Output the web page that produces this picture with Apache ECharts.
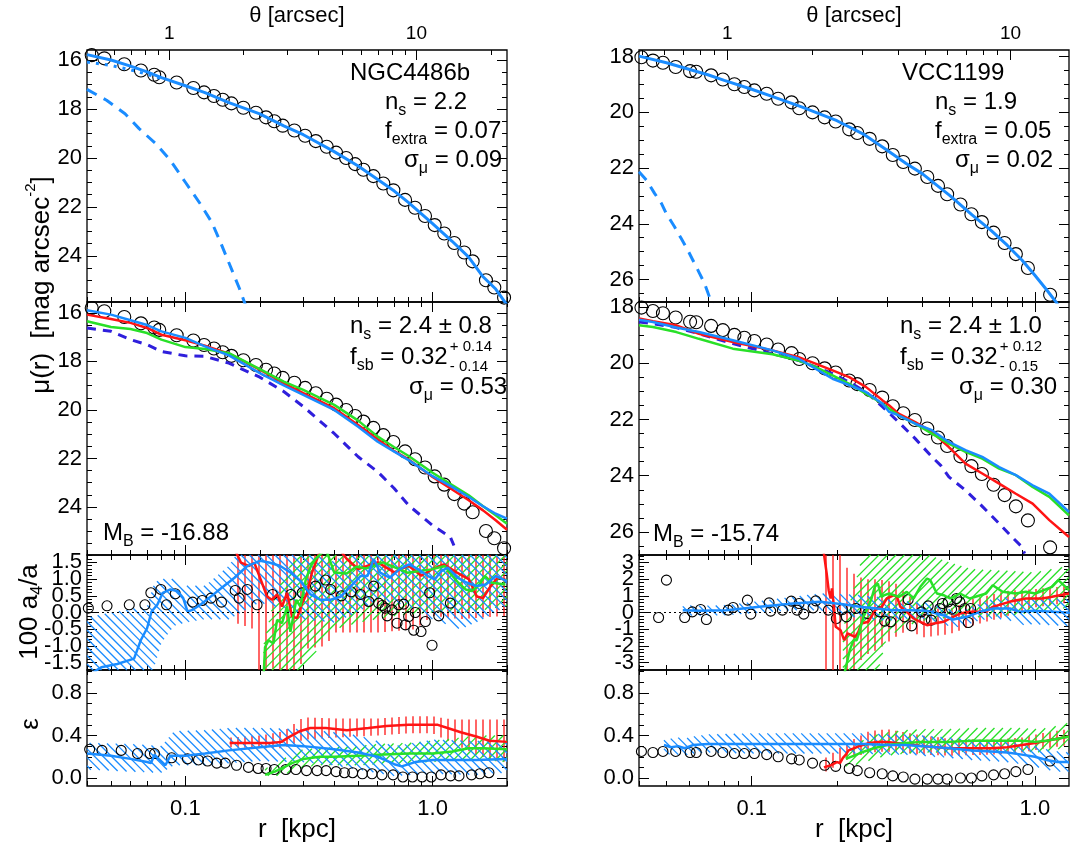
<!DOCTYPE html>
<html>
<head>
<meta charset="utf-8">
<script src="https://cdn.jsdelivr.net/npm/echarts@6/dist/echarts.min.js"></script>
<style>html,body{margin:0;padding:0;background:#fff}#chart{width:1071px;height:852px}</style>
</head>
<body>
<div id="chart"></div>
<script>
// ---------------- NGC4486b ----------------
const rMuL = [0.0418, 0.0470, 0.0566, 0.0661, 0.0748, 0.0784, 0.0922, 0.1077, 0.119, 0.1305, 0.1416, 0.1535, 0.1716, 0.193, 0.212, 0.229, 0.2477, 0.276, 0.305, 0.337, 0.373, 0.407, 0.447, 0.486, 0.525, 0.576, 0.632, 0.694, 0.774, 0.849, 0.932, 1.02, 1.115, 1.224, 1.343, 1.452, 1.644, 1.777, 1.946];
const muL = [15.80, 15.93, 16.17, 16.43, 16.60, 16.70, 16.92, 17.14, 17.32, 17.47, 17.62, 17.77, 17.95, 18.15, 18.34, 18.50, 18.68, 18.88, 19.09, 19.31, 19.54, 19.78, 20.00, 20.25, 20.48, 20.74, 21.04, 21.32, 21.71, 22.03, 22.37, 22.74, 23.08, 23.47, 23.86, 24.22, 24.99, 25.29, 25.70];
const rEpsL = [0.041, 0.046, 0.055, 0.064, 0.072, 0.075, 0.088, 0.102, 0.113, 0.123, 0.134, 0.145, 0.161, 0.180, 0.197, 0.212, 0.229, 0.255, 0.280, 0.309, 0.341, 0.371, 0.407, 0.440, 0.475, 0.520, 0.569, 0.624, 0.692, 0.758, 0.829, 0.907, 0.988, 1.082, 1.183, 1.279, 1.437, 1.553, 1.690];
const epsL = [0.27, 0.26, 0.26, 0.23, 0.23, 0.23, 0.19, 0.18, 0.17, 0.16, 0.14, 0.14, 0.12, 0.10, 0.09, 0.09, 0.08, 0.08, 0.08, 0.07, 0.07, 0.07, 0.06, 0.05, 0.05, 0.04, 0.04, 0.03, 0.03, 0.01, 0.01, 0.01, 0.01, 0.03, 0.02, 0.02, 0.03, 0.04, 0.05];

const fitL_r = [0.04, 0.05, 0.06, 0.07, 0.08, 0.1, 0.12, 0.15, 0.2, 0.25, 0.3, 0.4, 0.5, 0.6, 0.7, 0.8, 1.0, 1.2, 1.4, 1.6, 1.8, 2.0];
const fitL = [15.78, 16.00, 16.25, 16.48, 16.72, 17.05, 17.33, 17.74, 18.20, 18.69, 19.05, 19.74, 20.33, 20.88, 21.35, 21.82, 22.68, 23.40, 24.05, 24.85, 25.35, 26.00];
const sersicL_r = [0.04, 0.05, 0.06, 0.07, 0.08];
const sersicL = [16.08, 16.22, 16.40, 16.58, 16.76];
const extraL_r = [0.04, 0.048, 0.057, 0.065, 0.076, 0.087, 0.1, 0.115, 0.128, 0.138, 0.151, 0.165, 0.175];
const extraL = [17.20, 17.64, 18.19, 18.80, 19.42, 20.10, 20.99, 21.88, 22.63, 23.39, 24.35, 25.30, 26.00];

const modL_r = [0.04, 0.05, 0.06, 0.07, 0.08, 0.1, 0.12, 0.15, 0.2, 0.25, 0.3, 0.4, 0.5, 0.6, 0.7, 0.8, 1.0, 1.2, 1.4, 1.6, 1.8, 2.0];
const blueMuL = [15.89, 16.07, 16.30, 16.50, 16.76, 17.03, 17.38, 17.75, 18.48, 18.99, 19.38, 20.00, 20.69, 21.31, 21.72, 22.07, 22.73, 23.17, 23.59, 23.97, 24.28, 24.48];
const redMuL = [16.07, 16.25, 16.41, 16.62, 16.90, 17.13, 17.35, 17.68, 18.34, 18.90, 19.31, 19.93, 20.62, 21.21, 21.70, 22.04, 22.76, 23.28, 23.72, 24.14, 24.55, 24.94];
const greenMuL = [16.34, 16.58, 16.66, 16.83, 17.10, 17.41, 17.49, 17.66, 18.32, 18.83, 19.17, 19.79, 20.44, 21.10, 21.54, 21.90, 22.59, 23.10, 23.52, 23.97, 24.34, 24.69];
const dashMuL_r = [0.04, 0.05, 0.06, 0.07, 0.08, 0.1, 0.12, 0.15, 0.2, 0.25, 0.3, 0.4, 0.5, 0.6, 0.7, 0.8, 1.0, 1.18, 1.22];
const dashMuL = [16.62, 16.76, 17.10, 17.31, 17.59, 17.77, 17.79, 18.07, 18.65, 19.24, 19.86, 20.97, 21.93, 22.55, 23.24, 23.93, 24.76, 25.24, 25.59];

const a4L_r = [0.0405, 0.0482, 0.0593, 0.0686, 0.0725, 0.0796, 0.0839, 0.091, 0.107, 0.117, 0.127, 0.140, 0.159, 0.165, 0.178, 0.195, 0.225, 0.267, 0.297, 0.336, 0.369, 0.387, 0.428, 0.468, 0.511, 0.552, 0.578, 0.605, 0.625, 0.644, 0.655, 0.686, 0.718, 0.729, 0.764, 0.776, 0.800, 0.839, 0.851, 0.898, 0.935, 0.973, 0.995, 1.059, 1.18];
const a4L = [0.13, 0.20, 0.23, 0.23, 0.59, 0.69, 0.23, 0.56, 0.31, 0.36, 0.43, 0.31, 0.66, 0.43, 0.69, 0.23, 0.54, 0.54, 0.59, 0.79, 0.97, 0.69, 0.50, 0.62, 0.54, 0.33, 0.79, 0.28, 0.21, 0.13, -0.10, 0.08, -0.32, 0.23, 0.25, -0.37, -0.12, -0.53, 0.00, -0.57, -0.27, 0.59, -0.98, -0.10, 0.28];
const blueA4L_r = [0.04, 0.0457, 0.053, 0.062, 0.066, 0.070, 0.073, 0.077, 0.081, 0.087, 0.093, 0.098, 0.102, 0.107, 0.115, 0.135, 0.158, 0.178, 0.201, 0.220, 0.242, 0.267, 0.292, 0.321, 0.352, 0.387, 0.426, 0.467, 0.511, 0.545, 0.578, 0.614, 0.671, 0.734, 0.803, 0.877, 0.959, 1.02, 1.085, 1.153, 1.26, 1.378, 1.507, 1.647, 1.80, 2.0];
const blueA4L = [-1.90, -1.64, -1.54, -1.38, -0.83, -0.47, 0.03, 0.23, 0.59, 0.69, 0.64, 0.43, 0.03, 0.08, 0.23, 0.64, 1.04, 1.39, 1.55, 1.49, 1.39, 1.19, 0.94, 0.54, 0.38, 0.38, 0.48, 0.79, 1.09, 1.09, 1.60, 1.19, 1.04, 1.29, 1.44, 1.29, 1.09, 0.99, 1.24, 1.34, 1.04, 0.89, 0.79, 0.84, 1.09, 0.94];
const blueA4L_band_r = [0.04, 0.05, 0.06, 0.07, 0.075, 0.08, 0.09, 0.1, 0.12, 0.15, 0.2, 0.25, 0.3, 0.4, 0.5, 0.6, 0.8, 1.0, 1.3, 1.6, 2.0];
const blueA4L_lo = [-3.0, -3.0, -2.6, -2.0, -1.6, -0.9, -0.4, -0.3, -0.2, -0.2, 0.3, 0.1, -0.2, -0.3, 0.0, 0.4, 0.2, -0.2, -0.5, -0.2, 0.2];
const blueA4L_hi = [-0.15, 0.0, 0.1, 0.2, 0.9, 1.0, 1.0, 0.8, 0.8, 1.4, 2.8, 2.5, 2.0, 1.5, 2.2, 2.8, 2.5, 2.3, 2.5, 1.8, 1.7];
const redA4L_r = [0.158, 0.168, 0.181, 0.190, 0.204, 0.214, 0.224, 0.235, 0.246, 0.258, 0.270, 0.283, 0.297, 0.311, 0.325, 0.341, 0.356, 0.40, 0.45, 0.5, 0.6, 0.7, 0.8, 0.9, 1.0, 1.11, 1.25, 1.4, 1.51, 1.6, 1.7, 1.83, 1.97];
const redA4L = [1.90, 1.49, 1.39, 1.49, 0.89, 0.48, 0.38, 0.54, 0.18, 0.59, -0.12, -0.17, 0.28, 0.59, 1.19, 1.60, 2.00, 2.10, 1.60, 1.30, 1.50, 1.20, 1.40, 1.10, 1.30, 1.44, 1.20, 1.00, 0.48, 0.43, 0.74, 1.04, 0.99];
const redA4L_band_r = [0.158, 0.19, 0.2, 0.28, 0.3, 0.37, 0.4, 0.6, 0.85, 1.0, 1.3, 2.0];
const redA4L_lo = [-0.3, -0.5, -2.5, -2.5, -1.1, -1.0, -0.6, -0.6, -0.5, -0.1, -0.2, -0.1];
const redA4L_hi = [2.5, 2.5, 2.5, 2.5, 2.5, 2.5, 2.5, 2.5, 2.5, 2.5, 2.5, 2.5];
const greenA4L_r = [0.207, 0.210, 0.217, 0.227, 0.235, 0.246, 0.258, 0.266, 0.281, 0.292, 0.307, 0.322, 0.336, 0.352, 0.37, 0.40, 0.45, 0.49, 0.54, 0.63, 0.79, 0.99, 1.12, 1.19, 1.27, 1.36, 1.44, 1.53, 1.63, 1.74, 1.97];
const greenA4L = [-2.00, -1.04, -0.83, -0.93, -0.22, -0.32, 0.18, -0.58, 0.38, 0.18, 0.99, 1.39, 1.60, 1.75, 1.90, 1.20, 1.17, 1.37, 1.32, 1.50, 1.19, 1.29, 1.39, 1.14, 0.89, 0.69, 0.64, 0.79, 1.09, 0.89, 0.84];
const greenA4L_band_r = [0.207, 0.23, 0.27, 0.3, 0.35, 0.4, 0.5, 0.7, 1.0, 1.4, 2.0];
const greenA4L_lo = [-3.0, -3.0, -2.5, -1.7, -1.0, -0.5, -0.3, -0.1, 0.0, 0.0, 0.2];
const greenA4L_hi = [-1.0, 0.5, 1.5, 3.0, 3.0, 3.0, 3.0, 3.0, 3.0, 2.5, 2.0];

const blueEpsL_r = [0.04, 0.05, 0.06, 0.07, 0.0725, 0.075, 0.078, 0.083, 0.087, 0.1, 0.12, 0.15, 0.2, 0.25, 0.3, 0.4, 0.5, 0.6, 0.7, 0.75, 0.85, 1.0, 1.5, 2.0];
const blueEpsL = [0.23, 0.21, 0.18, 0.15, 0.14, 0.22, 0.18, 0.12, 0.21, 0.21, 0.23, 0.26, 0.29, 0.31, 0.30, 0.27, 0.24, 0.20, 0.13, 0.11, 0.15, 0.17, 0.17, 0.18];
const blueEpsL_band_r = [0.04, 0.06, 0.08, 0.09, 0.12, 0.15, 0.2, 0.3, 0.4, 0.5, 0.7, 1.0, 1.5, 2.0];
const blueEpsL_lo = [0.08, 0.06, 0.05, 0.12, 0.12, 0.14, 0.16, 0.15, 0.12, 0.08, 0.02, 0.04, 0.03, 0.05];
const blueEpsL_hi = [0.33, 0.32, 0.30, 0.44, 0.45, 0.47, 0.47, 0.46, 0.43, 0.40, 0.30, 0.36, 0.35, 0.33];
const redEpsL_r = [0.151, 0.16, 0.19, 0.22, 0.245, 0.26, 0.275, 0.29, 0.32, 0.37, 0.45, 0.55, 0.65, 0.8, 0.95, 1.05, 1.15, 1.3, 1.5, 1.7, 2.0];
const redEpsL = [0.33, 0.33, 0.33, 0.33, 0.34, 0.38, 0.41, 0.44, 0.47, 0.47, 0.45, 0.47, 0.49, 0.50, 0.50, 0.50, 0.47, 0.43, 0.39, 0.35, 0.34];
const redEpsL_band_r = [0.151, 0.2, 0.25, 0.3, 0.4, 0.6, 0.8, 1.0, 1.2, 1.5, 1.8, 2.0];
const redEpsL_lo = [0.29, 0.28, 0.28, 0.36, 0.38, 0.40, 0.42, 0.42, 0.33, 0.22, 0.16, 0.15];
const redEpsL_hi = [0.38, 0.40, 0.44, 0.57, 0.56, 0.56, 0.58, 0.58, 0.55, 0.55, 0.55, 0.55];
const greenEpsL_r = [0.21, 0.23, 0.25, 0.27, 0.3, 0.35, 0.4, 0.5, 0.6, 0.8, 1.0, 1.2, 1.4, 1.6, 2.0];
const greenEpsL = [0.03, 0.06, 0.10, 0.14, 0.18, 0.20, 0.20, 0.21, 0.22, 0.23, 0.23, 0.25, 0.28, 0.28, 0.27];
const greenEpsL_lo = [0.02, 0.02, 0.03, 0.06, 0.10, 0.12, 0.12, 0.12, 0.13, 0.14, 0.15, 0.17, 0.18, 0.17, 0.15];
const greenEpsL_hi = [0.09, 0.12, 0.18, 0.22, 0.27, 0.28, 0.29, 0.30, 0.32, 0.33, 0.35, 0.37, 0.39, 0.40, 0.40];

// ---------------- VCC1199 ----------------
const rR = [0.0408, 0.0448, 0.0486, 0.0539, 0.0606, 0.0637, 0.0719, 0.0791, 0.0869, 0.0942, 0.1022, 0.113, 0.124, 0.1383, 0.1472, 0.164, 0.181, 0.198, 0.221, 0.236, 0.261, 0.289, 0.315, 0.343, 0.377, 0.417, 0.455, 0.490, 0.546, 0.597, 0.650, 0.715, 0.782, 0.857, 0.945, 1.132];
const muR = [18.02, 18.14, 18.22, 18.37, 18.52, 18.54, 18.67, 18.82, 18.99, 19.09, 19.21, 19.33, 19.51, 19.64, 19.85, 20.00, 20.18, 20.33, 20.61, 20.74, 20.95, 21.22, 21.53, 21.78, 22.02, 22.32, 22.64, 22.94, 23.31, 23.66, 23.94, 24.32, 24.69, 25.09, 25.59, 26.55];
const epsR = [0.25, 0.24, 0.25, 0.25, 0.24, 0.24, 0.25, 0.24, 0.23, 0.23, 0.23, 0.22, 0.20, 0.18, 0.17, 0.14, 0.12, 0.11, 0.09, 0.07, 0.05, 0.04, 0.02, 0.01, -0.01, -0.01, -0.01, -0.01, 0.00, 0.00, 0.02, 0.03, 0.04, 0.06, 0.08, 0.16];

const fitR_r = [0.04, 0.05, 0.06, 0.07, 0.08, 0.1, 0.12, 0.15, 0.2, 0.25, 0.3, 0.35, 0.4, 0.5, 0.6, 0.7, 0.8, 0.9, 1.0, 1.1, 1.2, 1.32];
const fitR = [17.98, 18.22, 18.45, 18.65, 18.85, 19.17, 19.45, 19.80, 20.30, 20.80, 21.35, 21.83, 22.20, 22.98, 23.68, 24.24, 24.78, 25.30, 25.85, 26.37, 26.87, 27.40];
const extraR_r = [0.04, 0.0425, 0.0454, 0.048, 0.0499, 0.0534, 0.0564, 0.0595, 0.062, 0.0655, 0.0681, 0.0709, 0.0725];
const extraR = [22.13, 22.43, 22.91, 23.27, 23.63, 24.11, 24.53, 24.95, 25.31, 25.79, 26.14, 26.62, 26.90];

const modR_r = [0.04, 0.0448, 0.0542, 0.0651, 0.0858, 0.1184, 0.1465, 0.168, 0.193, 0.221, 0.253, 0.290, 0.306, 0.330, 0.378, 0.433, 0.497, 0.569, 0.652, 0.748, 0.857, 0.982, 1.125, 1.32];
const blueMuR = [18.45, 18.53, 18.73, 18.89, 19.18, 19.54, 19.84, 20.19, 20.55, 20.78, 21.02, 21.44, 21.73, 21.85, 22.15, 22.38, 22.80, 23.09, 23.33, 23.69, 23.98, 24.34, 24.64, 25.29];
const redMuR = [18.41, 18.50, 18.65, 18.95, 19.24, 19.54, 19.78, 20.01, 20.25, 20.49, 20.84, 21.32, 21.50, 21.79, 22.09, 22.44, 22.98, 23.57, 23.92, 24.28, 24.64, 24.99, 25.58, 26.18];
const greenMuR = [18.65, 18.71, 18.89, 19.13, 19.48, 19.68, 19.90, 20.13, 20.43, 20.73, 21.08, 21.44, 21.62, 21.85, 22.15, 22.50, 22.86, 23.15, 23.39, 23.75, 23.98, 24.40, 24.75, 25.41];
const dashMuR_r = [0.04, 0.0448, 0.0542, 0.0651, 0.0858, 0.1184, 0.1465, 0.168, 0.193, 0.221, 0.253, 0.290, 0.330, 0.378, 0.433, 0.465, 0.497, 0.569, 0.652, 0.748, 0.83, 0.90, 0.92];
const dashMuR = [18.53, 18.59, 18.73, 18.95, 19.30, 19.66, 19.90, 20.13, 20.37, 20.67, 21.02, 21.55, 22.09, 22.68, 23.33, 23.63, 24.04, 24.52, 25.09, 25.70, 26.18, 26.53, 26.77];

const a4R_r = [0.0469, 0.050, 0.058, 0.0617, 0.066, 0.0692, 0.0826, 0.0860, 0.0966, 0.0993, 0.1152, 0.1167, 0.1284, 0.138, 0.1446, 0.147, 0.1527, 0.1648, 0.1684, 0.1866, 0.199, 0.209, 0.216, 0.233, 0.257, 0.283, 0.295, 0.310, 0.347, 0.357, 0.367, 0.398, 0.409, 0.420, 0.431, 0.462, 0.472, 0.494, 0.508, 0.529, 0.543, 0.566, 0.582, 0.593];
const a4R = [-0.30, 1.94, -0.30, 0.04, 0.18, -0.42, 0.14, 0.30, 0.74, -0.10, 0.58, 0.08, 0.14, 0.68, 0.14, 0.54, -0.10, 0.28, 0.70, 0.14, -0.36, 0.18, -0.26, 0.24, -0.06, 0.04, -0.52, -0.56, -0.26, 0.78, -0.80, 0.04, -0.42, 0.40, -0.46, 0.24, 0.54, 0.64, 0.20, 0.84, 0.64, 0.24, -0.60, 0.24];
const blueA4R_r = [0.0571, 0.0654, 0.0814, 0.1067, 0.140, 0.174, 0.210, 0.241, 0.276, 0.316, 0.362, 0.414, 0.474, 0.515, 0.574, 0.640, 0.713, 0.817, 0.885, 0.987, 1.16, 1.33];
const blueA4R = [0.14, 0.10, 0.14, 0.34, 0.54, 0.64, 0.50, 0.34, 0.24, 0.14, 0.14, 0.10, -0.16, -0.42, -0.26, 0.04, 0.24, 0.24, 0.04, 0.10, 0.04, -0.02];
const blueA4R_lo = [-0.16, -0.20, -0.16, -0.01, 0.14, 0.14, -0.10, -0.36, -0.46, -0.46, -0.36, -0.40, -0.66, -0.92, -0.76, -0.46, -0.36, -0.46, -0.76, -0.70, -0.76, -0.82];
const blueA4R_hi = [0.44, 0.40, 0.44, 0.69, 0.94, 1.14, 1.10, 1.04, 0.94, 0.74, 0.64, 0.60, 0.34, 0.08, 0.24, 0.54, 0.84, 0.94, 0.84, 0.90, 0.84, 0.78];
const redA4R_r = [0.179, 0.184, 0.187, 0.190, 0.192, 0.195, 0.198, 0.206, 0.212, 0.218, 0.232, 0.238, 0.244, 0.258, 0.273, 0.288, 0.300, 0.318, 0.326, 0.335, 0.353, 0.373, 0.394, 0.416, 0.440, 0.476, 0.502, 0.544, 0.589, 0.673, 0.710, 0.812, 0.929, 1.06, 1.15, 1.32];
const redA4R = [3.80, 2.34, 1.34, 0.84, 1.44, 0.44, -0.86, -1.06, -1.66, -1.26, -1.46, -1.16, -0.66, -0.56, 0.14, 0.34, 0.84, 1.04, 0.94, 0.34, 0.04, -0.36, -0.56, -0.76, -0.66, -0.56, -0.36, -0.06, 0.04, 0.04, 0.34, 0.64, 0.84, 0.84, 0.94, 1.14];
const redA4R_band_r = [0.179, 0.2, 0.22, 0.25, 0.28, 0.32, 0.36, 0.4, 0.5, 0.6, 0.8, 1.0, 1.32];
const redA4R_lo = [-3.8, -3.8, -3.8, -2.6, -2.2, -1.5, -1.0, -1.5, -1.3, -0.8, -0.2, 0.3, 0.6];
const redA4R_hi = [3.8, 3.8, 2.5, 2.0, 2.0, 1.8, 1.0, 0.3, 0.2, 0.8, 1.3, 1.4, 1.6];
const greenA4R_r = [0.213, 0.222, 0.229, 0.235, 0.241, 0.248, 0.258, 0.265, 0.272, 0.279, 0.287, 0.294, 0.306, 0.331, 0.353, 0.373, 0.394, 0.416, 0.427, 0.451, 0.476, 0.502, 0.544, 0.589, 0.673, 0.710, 0.769, 0.856, 0.929, 1.005, 1.15, 1.21, 1.32];
const greenA4R = [-3.60, -2.26, -1.66, -1.66, -1.06, -0.26, 0.34, 0.84, 1.54, 1.74, 0.94, 1.04, 1.14, 0.94, 1.24, 0.84, 1.54, 2.04, 1.94, 1.14, 1.04, 0.84, 1.14, 0.84, 1.14, 1.64, 1.24, 1.14, 1.24, 1.14, 1.54, 1.94, 1.34];
const greenA4R_band_r = [0.21, 0.25, 0.28, 0.3, 0.35, 0.4, 0.5, 0.6, 0.8, 1.0, 1.32];
const greenA4R_lo = [-3.8, -3.8, -3.5, -1.5, -0.8, -0.5, -0.3, -0.3, -0.2, 0.0, 0.3];
const greenA4R_hi = [-1.0, 3.8, 3.8, 3.8, 3.8, 3.6, 3.0, 2.6, 2.5, 2.4, 2.8];

const blueEpsR_r = [0.049, 0.052, 0.055, 0.058, 0.062, 0.07, 0.1, 0.15, 0.2, 0.25, 0.3, 0.35, 0.4, 0.5, 0.6, 0.7, 0.8, 0.9, 1.0, 1.1, 1.2, 1.32];
const blueEpsR = [0.31, 0.29, 0.30, 0.28, 0.31, 0.32, 0.32, 0.32, 0.32, 0.32, 0.31, 0.31, 0.30, 0.28, 0.26, 0.25, 0.24, 0.22, 0.20, 0.17, 0.15, 0.15];
const blueEpsR_lo = [0.23, 0.22, 0.22, 0.21, 0.23, 0.24, 0.23, 0.23, 0.23, 0.23, 0.22, 0.22, 0.21, 0.19, 0.17, 0.16, 0.15, 0.13, 0.11, 0.08, 0.06, 0.06];
const blueEpsR_hi = [0.38, 0.37, 0.38, 0.37, 0.39, 0.41, 0.42, 0.42, 0.42, 0.42, 0.41, 0.41, 0.40, 0.38, 0.36, 0.35, 0.34, 0.32, 0.30, 0.27, 0.25, 0.24];
const redEpsR_r = [0.18, 0.19, 0.2, 0.205, 0.21, 0.215, 0.22, 0.24, 0.26, 0.28, 0.3, 0.35, 0.4, 0.5, 0.6, 0.7, 0.8, 0.9, 1.0, 1.1, 1.2, 1.32];
const redEpsR = [0.10, 0.12, 0.15, 0.14, 0.19, 0.22, 0.26, 0.30, 0.33, 0.34, 0.34, 0.32, 0.30, 0.28, 0.28, 0.28, 0.29, 0.31, 0.33, 0.35, 0.37, 0.39];
const redEpsR_band_r = [0.18, 0.22, 0.26, 0.3, 0.4, 0.5, 0.7, 0.9, 1.1, 1.32];
const redEpsR_lo = [0.05, 0.18, 0.24, 0.25, 0.22, 0.21, 0.22, 0.24, 0.28, 0.31];
const redEpsR_hi = [0.18, 0.34, 0.44, 0.46, 0.40, 0.37, 0.36, 0.38, 0.43, 0.46];
const greenEpsR_r = [0.215, 0.23, 0.25, 0.27, 0.3, 0.35, 0.4, 0.5, 0.6, 0.7, 0.8, 0.9, 1.0, 1.1, 1.2, 1.32];
const greenEpsR = [0.18, 0.21, 0.25, 0.28, 0.31, 0.33, 0.34, 0.34, 0.35, 0.35, 0.35, 0.35, 0.34, 0.35, 0.37, 0.39];
const greenEpsR_lo = [0.10, 0.12, 0.15, 0.18, 0.21, 0.23, 0.24, 0.24, 0.25, 0.25, 0.25, 0.25, 0.24, 0.25, 0.27, 0.29];
const greenEpsR_hi = [0.26, 0.31, 0.36, 0.40, 0.43, 0.45, 0.46, 0.46, 0.47, 0.47, 0.47, 0.47, 0.46, 0.47, 0.49, 0.52];

// ---------------- axes: ticks and labels ----------------
const KPC_MAJOR = [0.1, 1.0];
const KPC_MINOR = [0.04, 0.05, 0.06, 0.07, 0.08, 0.09, 0.2, 0.3, 0.4, 0.5, 0.6, 0.7, 0.8, 0.9, 2, 3];
const ARC_MAJOR = [1, 10];
const ARC_MINOR = [0.5, 0.6, 0.7, 0.8, 0.9, 2, 3, 4, 5, 6, 7, 8, 9, 20, 30];
const MU_L_TICKS = [16, 18, 20, 22, 24];
const MU_R_TICKS = [18, 20, 22, 24, 26];
const A4_L_TICKS = [-1.5, -1, -0.5, 0, 0.5, 1, 1.5];
const A4_R_TICKS = [-3, -2, -1, 0, 1, 2, 3];
const EPS_TICKS = [0, 0.4, 0.8];

const FONT = '"Liberation Sans", Arial, Helvetica, sans-serif';
const BLUE = '#1a8cff', RED = '#ff1414', GREEN = '#28e028', VIOLET = '#2f1fdc';
const LOG = Math.log10;

function steps(a, b, d) { const out = []; for (let v = a; v <= b + 1e-9; v += d) out.push(Math.round(v * 1000) / 1000); return out; }
function minus(list, ex) { return list.filter(v => !ex.some(e => Math.abs(e - v) < 1e-6)); }
// labels are split into alternating sets so that closely packed ones are all drawn
const alt = (list, k) => list.filter((v, i) => i % 2 === k);

// column layout, x ranges (kpc) and angular scale (kpc per arcsec)
const COLS = [
  { left: 87, width: 420, rMin: 0.04, rMax: 2.0, kpcPerArcsec: 0.086 },
  { left: 639, width: 430, rMin: 0.04, rMax: 1.32, kpcPerArcsec: 0.082 }
];
const ROWS = [
  { top: 50, height: 252 }, { top: 302, height: 253 }, { top: 555, height: 115 }, { top: 670, height: 116 }
];
const intFmt = v => String(Math.round(v));
const decFmt = v => v.toFixed(1);
// per column, per row: y range, tick values and label sets
const YSPEC = [
  [
    { min: 15.59, max: 25.88, inv: true, major: MU_L_TICKS, labels: [MU_L_TICKS], minor: steps(16, 25.5, 0.5), fmt: intFmt },
    { min: 15.55, max: 25.98, inv: true, major: MU_L_TICKS, labels: [MU_L_TICKS], minor: steps(16, 25.5, 0.5), fmt: intFmt },
    { min: -1.72, max: 1.72, inv: false, major: A4_L_TICKS, labels: [alt(A4_L_TICKS, 0), alt(A4_L_TICKS, 1)], minor: steps(-1.7, 1.7, 0.1), fmt: decFmt },
    { min: -0.075, max: 1.016, inv: false, major: EPS_TICKS, labels: [EPS_TICKS], minor: steps(0, 1.0, 0.1), fmt: decFmt }
  ],
  [
    { min: 17.76, max: 26.81, inv: true, major: MU_R_TICKS, labels: [MU_R_TICKS], minor: steps(18, 26.5, 0.5), fmt: intFmt },
    { min: 17.82, max: 26.82, inv: true, major: MU_R_TICKS, labels: [MU_R_TICKS], minor: steps(18, 26.5, 0.5), fmt: intFmt },
    { min: -3.45, max: 3.45, inv: false, major: A4_R_TICKS, labels: [alt(A4_R_TICKS, 0), alt(A4_R_TICKS, 1)], minor: steps(-3.4, 3.4, 0.2), fmt: intFmt },
    { min: -0.075, max: 1.016, inv: false, major: EPS_TICKS, labels: [EPS_TICKS], minor: steps(0, 1.0, 0.1), fmt: decFmt }
  ]
];

const option = {
  animation: false,
  backgroundColor: '#ffffff',
  grid: [], xAxis: [], yAxis: [], series: [], graphic: { elements: [] }
};

function tickOpt(vals, len) {
  return { show: true, inside: true, length: len, customValues: vals, lineStyle: { color: '#000', width: 1 } };
}
const NOTICK = { show: false };
const NOLINE = { show: false, onZero: false };
const LABEL_FONT = { fontFamily: FONT, fontSize: 22, color: '#000', showMinLabel: true, showMaxLabel: true, hideOverlap: false };

// builds the x and y axes of one panel; returns the indices used by its series
function buildPanel(ci, ri) {
  const col = COLS[ci], row = ROWS[ri], ys = YSPEC[ci][ri];
  const gi = option.grid.length;
  option.grid.push({ left: col.left, top: row.top, width: col.width, height: row.height, show: true,
    borderColor: '#000', borderWidth: 1.3, backgroundColor: 'transparent', containLabel: false, outerBoundsMode: 'none' });
  const inR = v => v >= col.rMin - 1e-9 && v <= col.rMax + 1e-9;
  const kMaj = KPC_MAJOR.filter(inR).map(LOG), kMin = KPC_MINOR.filter(inR).map(LOG);
  const aInR = v => inR(v * col.kpcPerArcsec);
  const aMaj = ARC_MAJOR.filter(aInR).map(v => LOG(v * col.kpcPerArcsec));
  const aMin = ARC_MINOR.filter(aInR).map(v => LOG(v * col.kpcPerArcsec));
  const xb = { type: 'value', gridIndex: gi, min: LOG(col.rMin), max: LOG(col.rMax), splitLine: { show: false }, axisLine: NOLINE };
  const xi = option.xAxis.length;
  const bottomLabels = ri === 3;
  option.xAxis.push(Object.assign({}, xb, { position: 'bottom', axisTick: tickOpt(kMaj, 10),
    axisLabel: bottomLabels ? Object.assign({ show: true, customValues: kMaj, margin: 12,
      formatter: v => Math.pow(10, v).toFixed(1) }, LABEL_FONT) : { show: false } }));
  option.xAxis.push(Object.assign({}, xb, { position: 'bottom', axisTick: tickOpt(kMin, 5), axisLabel: { show: false } }));
  if (ri === 0) {
    option.xAxis.push(Object.assign({}, xb, { position: 'top', axisTick: tickOpt(aMaj, 10),
      axisLabel: Object.assign({ show: true, customValues: aMaj, margin: 7,
        formatter: v => String(Math.round(Math.pow(10, v) / col.kpcPerArcsec)) }, LABEL_FONT, { fontSize: 19 }) }));
    option.xAxis.push(Object.assign({}, xb, { position: 'top', axisTick: tickOpt(aMin, 5), axisLabel: { show: false } }));
  } else {
    option.xAxis.push(Object.assign({}, xb, { position: 'top', axisTick: tickOpt(kMaj, 10), axisLabel: { show: false } }));
    option.xAxis.push(Object.assign({}, xb, { position: 'top', axisTick: tickOpt(kMin, 5), axisLabel: { show: false } }));
  }
  const yb = { type: 'value', gridIndex: gi, min: ys.min, max: ys.max, inverse: ys.inv, splitLine: { show: false }, axisLine: NOLINE };
  const yi = option.yAxis.length;
  const yMin = minus(ys.minor, ys.major).filter(v => v > ys.min && v < ys.max);
  option.yAxis.push(Object.assign({}, yb, { position: 'left', axisTick: tickOpt(ys.major, 10), axisLabel: { show: false } }));
  option.yAxis.push(Object.assign({}, yb, { position: 'left', axisTick: tickOpt(yMin, 5), axisLabel: { show: false } }));
  option.yAxis.push(Object.assign({}, yb, { position: 'right', axisTick: tickOpt(ys.major, 10), axisLabel: { show: false } }));
  option.yAxis.push(Object.assign({}, yb, { position: 'right', axisTick: tickOpt(yMin, 5), axisLabel: { show: false } }));
  ys.labels.forEach(set => {
    option.yAxis.push(Object.assign({}, yb, { position: 'left', axisTick: NOTICK,
      axisLabel: Object.assign({ show: true, customValues: set, margin: 5, formatter: ys.fmt }, LABEL_FONT) }));
  });
  return { x: xi, y: yi };
}

// ---------------- series helpers ----------------
function pts(rs, vals) { return rs.map((r, i) => [LOG(r), vals[i]]); }
function line(ax, rs, vals, color, width, type, z) {
  return { type: 'line', xAxisIndex: ax.x, yAxisIndex: ax.y, data: pts(rs, vals), showSymbol: false, symbol: 'none',
    silent: true, clip: true, z: z || 4, lineStyle: { color, width, type: type || 'solid', cap: 'butt' } };
}
function circles(ax, rs, vals, size) {
  return { type: 'scatter', xAxisIndex: ax.x, yAxisIndex: ax.y, data: pts(rs, vals), symbol: 'circle', symbolSize: size,
    silent: true, clip: true, z: 3, itemStyle: { color: 'rgba(0,0,0,0)', borderColor: '#000', borderWidth: 1.1, opacity: 1 } };
}
function zeroLine(ax) {
  return { type: 'line', xAxisIndex: ax.x, yAxisIndex: ax.y, data: [], silent: true, z: 2,
    markLine: { silent: true, symbol: ['none', 'none'], label: { show: false }, animation: false,
      lineStyle: { color: '#000', type: [2, 3], width: 1 }, data: [{ yAxis: 0 }] } };
}

// clip a segment to a rectangle (Liang-Barsky)
function clipSeg(x1, y1, x2, y2, r) {
  let t0 = 0, t1 = 1; const dx = x2 - x1, dy = y2 - y1;
  const p = [-dx, dx, -dy, dy], q = [x1 - r.x, r.x + r.width - x1, y1 - r.y, r.y + r.height - y1];
  for (let i = 0; i < 4; i++) {
    if (p[i] === 0) { if (q[i] < 0) return null; }
    else {
      const t = q[i] / p[i];
      if (p[i] < 0) { if (t > t1) return null; if (t > t0) t0 = t; }
      else { if (t < t0) return null; if (t < t1) t1 = t; }
    }
  }
  return [x1 + t0 * dx, y1 + t0 * dy, x1 + t1 * dx, y1 + t1 * dy];
}
// parallel fill lines inside a polygon (pixel space)
function hatchSegments(poly, angleDeg, spacing, rect) {
  const a = angleDeg * Math.PI / 180;
  const dx = Math.cos(a), dy = Math.sin(a), nx = -dy, ny = dx;
  const proj = poly.map(p => p[0] * nx + p[1] * ny);
  const lo = Math.min.apply(null, proj), hi = Math.max.apply(null, proj);
  const segs = [];
  for (let c = Math.ceil(lo / spacing) * spacing; c <= hi; c += spacing) {
    const ts = [];
    for (let i = 0; i < poly.length; i++) {
      const j = (i + 1) % poly.length;
      const p1 = proj[i] - c, p2 = proj[j] - c;
      if ((p1 < 0) !== (p2 < 0)) {
        const f = p1 / (p1 - p2);
        const x = poly[i][0] + f * (poly[j][0] - poly[i][0]);
        const y = poly[i][1] + f * (poly[j][1] - poly[i][1]);
        ts.push(x * dx + y * dy);
      }
    }
    ts.sort((u, v) => u - v);
    for (let k = 0; k + 1 < ts.length; k += 2) {
      const s = clipSeg(c * nx + ts[k] * dx, c * ny + ts[k] * dy, c * nx + ts[k + 1] * dx, c * ny + ts[k + 1] * dy, rect);
      if (s) segs.push(s);
    }
  }
  return segs;
}
// uncertainty band drawn as hatching between lower and upper curves
function band(ax, rs, lo, hi, color, angle, spacing, width) {
  return {
    type: 'custom', xAxisIndex: ax.x, yAxisIndex: ax.y, silent: true, z: 1,
    data: [[LOG(rs[0]), lo[0]]],
    renderItem: (params, api) => {
      const cs = params.coordSys;
      const poly = [];
      rs.forEach((r, i) => poly.push(api.coord([LOG(r), hi[i]])));
      for (let i = rs.length - 1; i >= 0; i--) poly.push(api.coord([LOG(rs[i]), lo[i]]));
      const segs = hatchSegments(poly, angle, spacing, { x: cs.x, y: cs.y, width: cs.width, height: cs.height });
      return { type: 'group', children: segs.map(s => ({ type: 'line', shape: { x1: s[0], y1: s[1], x2: s[2], y2: s[3] },
        style: { stroke: color, lineWidth: width } })) };
    }
  };
}

// ---------------- panels ----------------
const L = [0, 1, 2, 3].map(ri => buildPanel(0, ri));
const R = [0, 1, 2, 3].map(ri => buildPanel(1, ri));
const S = option.series;

// surface brightness with Sersic fit
S.push(circles(L[0], rMuL, muL, 13));
S.push(line(L[0], extraL_r, extraL, BLUE, 3, [11, 8]));
S.push(line(L[0], sersicL_r, sersicL, BLUE, 3, [3, 6]));
S.push(line(L[0], fitL_r, fitL, BLUE, 3));
S.push(circles(R[0], rR, muR, 13));
S.push(line(R[0], extraR_r, extraR, BLUE, 3, [11, 8]));
S.push(line(R[0], fitR_r, fitR, BLUE, 3));

// surface brightness with simulated models
S.push(circles(L[1], rMuL, muL, 13));
S.push(line(L[1], dashMuL_r, dashMuL, VIOLET, 3, [9, 7]));
S.push(line(L[1], modL_r, redMuL, RED, 2.5));
S.push(line(L[1], modL_r, greenMuL, GREEN, 2.5));
S.push(line(L[1], modL_r, blueMuL, BLUE, 2.5));
S.push(circles(R[1], rR, muR, 13));
S.push(line(R[1], dashMuR_r, dashMuR, VIOLET, 3, [9, 7]));
S.push(line(R[1], modR_r, redMuR, RED, 2.5));
S.push(line(R[1], modR_r, greenMuR, GREEN, 2.5));
S.push(line(R[1], modR_r, blueMuR, BLUE, 2.5));

// a4 panels
S.push(zeroLine(L[2]));
S.push(band(L[2], redA4L_band_r, redA4L_lo, redA4L_hi, RED, 90, 7, 1.3));
S.push(band(L[2], greenA4L_band_r, greenA4L_lo, greenA4L_hi, GREEN, -45, 6, 1.3));
S.push(band(L[2], blueA4L_band_r, blueA4L_lo, blueA4L_hi, BLUE, 45, 6, 1.3));
S.push(circles(L[2], a4L_r, a4L, 10));
S.push(line(L[2], redA4L_r, redA4L, RED, 2.5));
S.push(line(L[2], greenA4L_r, greenA4L, GREEN, 2.5));
S.push(line(L[2], blueA4L_r, blueA4L, BLUE, 2.5));
S.push(zeroLine(R[2]));
S.push(band(R[2], redA4R_band_r, redA4R_lo, redA4R_hi, RED, 90, 7, 1.3));
S.push(band(R[2], greenA4R_band_r, greenA4R_lo, greenA4R_hi, GREEN, -45, 6, 1.3));
S.push(band(R[2], blueA4R_r, blueA4R_lo, blueA4R_hi, BLUE, 45, 6, 1.3));
S.push(circles(R[2], a4R_r, a4R, 10));
S.push(line(R[2], redA4R_r, redA4R, RED, 2.5));
S.push(line(R[2], greenA4R_r, greenA4R, GREEN, 2.5));
S.push(line(R[2], blueA4R_r, blueA4R, BLUE, 2.5));

// ellipticity panels
S.push(band(L[3], redEpsL_band_r, redEpsL_lo, redEpsL_hi, RED, 90, 7, 1.3));
S.push(band(L[3], greenEpsL_r, greenEpsL_lo, greenEpsL_hi, GREEN, -45, 6, 1.3));
S.push(band(L[3], blueEpsL_band_r, blueEpsL_lo, blueEpsL_hi, BLUE, 45, 6, 1.3));
S.push(circles(L[3], rEpsL, epsL, 10));
S.push(line(L[3], redEpsL_r, redEpsL, RED, 2.5));
S.push(line(L[3], greenEpsL_r, greenEpsL, GREEN, 2.5));
S.push(line(L[3], blueEpsL_r, blueEpsL, BLUE, 2.5));
S.push(band(R[3], redEpsR_band_r, redEpsR_lo, redEpsR_hi, RED, 90, 7, 1.3));
S.push(band(R[3], greenEpsR_r, greenEpsR_lo, greenEpsR_hi, GREEN, -45, 6, 1.3));
S.push(band(R[3], blueEpsR_r, blueEpsR_lo, blueEpsR_hi, BLUE, 45, 6, 1.3));
S.push(circles(R[3], rR, epsR, 10));
S.push(line(R[3], redEpsR_r, redEpsR, RED, 2.5));
S.push(line(R[3], greenEpsR_r, greenEpsR, GREEN, 2.5));
S.push(line(R[3], blueEpsR_r, blueEpsR, BLUE, 2.5));

// ---------------- text ----------------
const mctx = document.createElement('canvas').getContext('2d');
function tw(s, size) { mctx.font = size + 'px ' + FONT; return mctx.measureText(s).width; }
// a run of text pieces: [text, size, dy] or a stacked pair [top, bottom, size, dyTop, dyBottom]
function run(parts) {
  const kids = []; let cx = 0;
  const txt = (t, x, y, size) => ({ type: 'text', x, y, style: { text: t, font: size + 'px ' + FONT, fill: '#000', align: 'left', verticalAlign: 'middle' } });
  parts.forEach(p => {
    if (p.length === 5) {
      const [t1, t2, size, d1, d2] = p;
      kids.push(txt(t1, cx, d1, size));
      kids.push(txt(t2, cx, d2, size));
      cx += Math.max(tw(t1, size), tw(t2, size));
    } else {
      const [t, size, dy] = p;
      kids.push(txt(t, cx, dy || 0, size));
      cx += tw(t, size);
    }
  });
  return { kids, width: cx };
}
function textAt(x, cy, parts) {
  const r = run(parts);
  option.graphic.elements.push({ type: 'group', x, y: cy, children: r.kids, silent: true });
}
function textCentered(cx, cy, parts, rotation) {
  const r = run(parts);
  r.kids.forEach(k => { k.x -= r.width / 2; });
  option.graphic.elements.push({ type: 'group', x: cx, y: cy, rotation: rotation || 0, children: r.kids, silent: true });
}
const BIG = 24, SUB = 16, SD = 9, TITLE = 26;

// NGC4486b annotations
textAt(350, 73, [['NGC4486b', BIG]]);
textAt(385, 102, [['n', BIG], ['s', SUB, SD], [' = 2.2', BIG]]);
textAt(385, 131, [['f', BIG], ['extra', SUB, SD], [' = 0.07', BIG]]);
textAt(404, 160, [['\u03c3', BIG], ['\u03bc', SUB, SD], [' = 0.09', BIG]]);
textAt(350, 326, [['n', BIG], ['s', SUB, SD], [' = 2.4 \u00b1 0.8', BIG]]);
textAt(350, 357, [['f', BIG], ['sb', SUB, SD], [' = 0.32', BIG], [' ', 8], ['+ 0.14', '- 0.14', 15, -10, 10]]);
textAt(409, 387, [['\u03c3', BIG], ['\u03bc', SUB, SD], [' = 0.53', BIG]]);
textAt(103, 533, [['M', BIG], ['B', SUB, SD], [' = -16.88', BIG]]);

// VCC1199 annotations
textAt(902, 73, [['VCC1199', BIG]]);
textAt(935, 102, [['n', BIG], ['s', SUB, SD], [' = 1.9', BIG]]);
textAt(935, 131, [['f', BIG], ['extra', SUB, SD], [' = 0.05', BIG]]);
textAt(955, 160, [['\u03c3', BIG], ['\u03bc', SUB, SD], [' = 0.02', BIG]]);
textAt(900, 326, [['n', BIG], ['s', SUB, SD], [' = 2.4 \u00b1 1.0', BIG]]);
textAt(900, 357, [['f', BIG], ['sb', SUB, SD], [' = 0.32', BIG], [' ', 8], ['+ 0.12', '- 0.15', 15, -10, 10]]);
textAt(959, 387, [['\u03c3', BIG], ['\u03bc', SUB, SD], [' = 0.30', BIG]]);
textAt(653, 534, [['M', BIG], ['B', SUB, SD], [' = -15.74', BIG]]);

// axis titles
textCentered(COLS[0].left + COLS[0].width / 2, 16, [['\u03b8 [arcsec]', 22]]);
textCentered(COLS[1].left + COLS[1].width / 2, 16, [['\u03b8 [arcsec]', 22]]);
textCentered(COLS[0].left + COLS[0].width / 2, 830, [['r  [kpc]', TITLE]]);
textCentered(COLS[1].left + COLS[1].width / 2, 830, [['r  [kpc]', TITLE]]);
textCentered(42, 285, [['\u03bc(r)  [mag arcsec', TITLE], ['-2', 15, -11], [']', TITLE]], Math.PI / 2);
textCentered(30, 612, [['100 a', TITLE], ['4', 16, 8], ['/a', TITLE]], Math.PI / 2);
textCentered(31, 724, [['\u03b5', TITLE]], Math.PI / 2);

const chart = echarts.init(document.getElementById('chart'), null, { renderer: 'canvas', width: 1071, height: 852 });
chart.setOption(option);
</script>
</body>
</html>
